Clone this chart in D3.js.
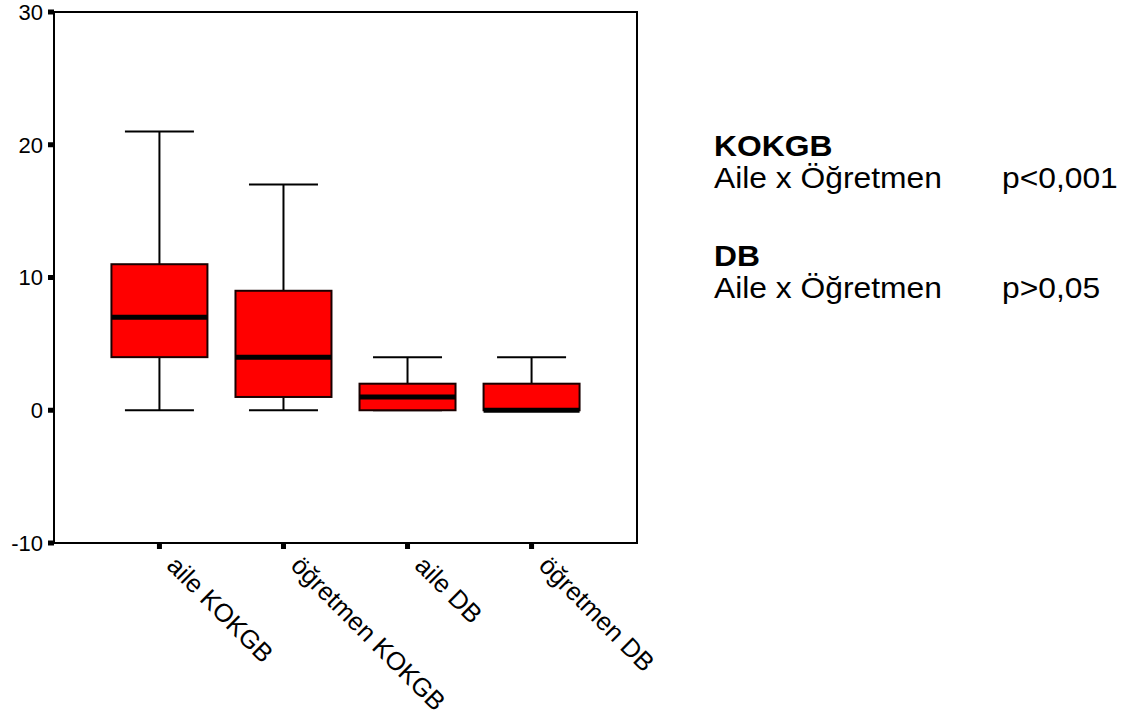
<!DOCTYPE html>
<html>
<head>
<meta charset="utf-8">
<script src="https://cdn.jsdelivr.net/npm/d3@7/dist/d3.min.js"></script>
<style>
  html, body { margin: 0; padding: 0; background: #fff; }
  svg { display: block; }
  text { font-family: "Liberation Sans", Arial, sans-serif; fill: #000; }
</style>
</head>
<body>
<svg id="chart" width="1137" height="722"></svg>
<script>
// Groups and their five-number summaries
const categories = ["aile KOKGB", "öğretmen KOKGB", "aile DB", "öğretmen DB"];
const whiskerLow  = [0, 0, 0, 0];
const boxLow      = [4, 1, 0, 0];
const medians     = [7, 4, 1, 0];
const boxHigh     = [11, 9, 2, 2];
const whiskerHigh = [21, 17, 4, 4];
const yTicks = [-10, 0, 10, 20, 30];

// Test results shown beside the plot
const legendTitles = ["KOKGB", "DB"];
const legendComparisons = ["Aile x Öğretmen", "Aile x Öğretmen"];
const legendPValues = ["p<0,001", "p>0,05"];

const svg = d3.select("#chart");
const plot = { left: 54, right: 637, top: 12, bottom: 543 };

const x = d3.scalePoint()
  .domain(categories)
  .range([plot.left, plot.right])
  .padding(0.85);

const y = d3.scaleLinear()
  .domain([-10, 30])
  .range([plot.bottom, plot.top]);

const boxWidth = 96;
const capWidth = 69;

const data = categories.map((c, i) => ({
  cat: c,
  lo: whiskerLow[i], q1: boxLow[i], med: medians[i], q3: boxHigh[i], hi: whiskerHigh[i]
}));

// Frame around the plot area
svg.append("rect")
  .attr("x", plot.left).attr("y", plot.top)
  .attr("width", plot.right - plot.left).attr("height", plot.bottom - plot.top)
  .attr("fill", "none").attr("stroke", "#000").attr("stroke-width", 2);

// Y axis: square tick marks and labels
const yAxis = svg.append("g");
yAxis.selectAll("rect.tick").data(yTicks).join("rect")
  .attr("class", "tick")
  .attr("x", plot.left - 6).attr("y", d => y(d) - 2.5)
  .attr("width", 6).attr("height", 5).attr("fill", "#000");
yAxis.selectAll("text").data(yTicks).join("text")
  .attr("x", 43).attr("y", d => y(d))
  .attr("dy", "0.36em")
  .attr("text-anchor", "end")
  .attr("font-size", 22)
  .text(d => d);

// X axis: square tick marks and slanted labels
const xAxis = svg.append("g");
xAxis.selectAll("rect.tick").data(categories).join("rect")
  .attr("class", "tick")
  .attr("x", d => x(d) - 2.5).attr("y", plot.bottom)
  .attr("width", 5).attr("height", 6).attr("fill", "#000");
xAxis.selectAll("text").data(categories).join("text")
  .attr("transform", d => `translate(${x(d) + 6},${plot.bottom + 24}) rotate(45)`)
  .attr("font-size", 25.5)
  .text(d => d);

// Boxes
const g = svg.append("g").selectAll("g").data(data).join("g");

// Whiskers
g.append("line")
  .attr("x1", d => x(d.cat)).attr("x2", d => x(d.cat))
  .attr("y1", d => y(d.hi)).attr("y2", d => y(d.q3))
  .attr("stroke", "#000").attr("stroke-width", 2);
g.append("line")
  .attr("x1", d => x(d.cat)).attr("x2", d => x(d.cat))
  .attr("y1", d => y(d.q1)).attr("y2", d => y(d.lo))
  .attr("stroke", "#000").attr("stroke-width", 2);
g.append("line")
  .attr("x1", d => x(d.cat) - capWidth / 2).attr("x2", d => x(d.cat) + capWidth / 2)
  .attr("y1", d => y(d.hi)).attr("y2", d => y(d.hi))
  .attr("stroke", "#000").attr("stroke-width", 2);
g.append("line")
  .attr("x1", d => x(d.cat) - capWidth / 2).attr("x2", d => x(d.cat) + capWidth / 2)
  .attr("y1", d => y(d.lo)).attr("y2", d => y(d.lo))
  .attr("stroke", "#000").attr("stroke-width", 2);

// Interquartile box
g.append("rect")
  .attr("x", d => x(d.cat) - boxWidth / 2)
  .attr("y", d => y(d.q3))
  .attr("width", boxWidth)
  .attr("height", d => y(d.q1) - y(d.q3))
  .attr("fill", "#ff0000")
  .attr("stroke", "#1a0000").attr("stroke-width", 2);

// Median
g.append("line")
  .attr("x1", d => x(d.cat) - boxWidth / 2).attr("x2", d => x(d.cat) + boxWidth / 2)
  .attr("y1", d => y(d.med)).attr("y2", d => y(d.med))
  .attr("stroke", "#000").attr("stroke-width", 5);

// Test results text block
const legend = svg.append("g").attr("transform", "translate(714,0) scale(1.06,1)");
const rowBase = [156, 266.5];
legendTitles.forEach((t, i) => {
  legend.append("text")
    .attr("x", 0).attr("y", rowBase[i])
    .attr("font-size", 30).attr("font-weight", "bold")
    .text(t);
  legend.append("text")
    .attr("x", 0).attr("y", rowBase[i] + 32)
    .attr("font-size", 30)
    .text(legendComparisons[i]);
  legend.append("text")
    .attr("x", (1002 - 714) / 1.06).attr("y", rowBase[i] + 32)
    .attr("font-size", 30)
    .text(legendPValues[i]);
});
</script>
</body>
</html>
